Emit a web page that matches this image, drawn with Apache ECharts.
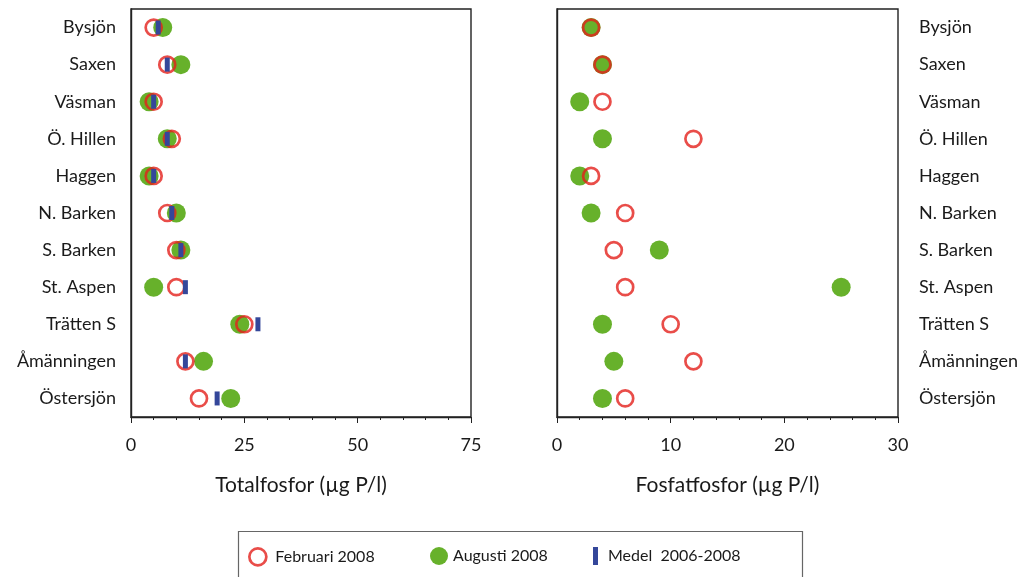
<!DOCTYPE html>
<html>
<head>
<meta charset="utf-8">
<script src="https://cdn.jsdelivr.net/npm/echarts@6/dist/echarts.min.js"></script>
<style>
html,body{margin:0;padding:0;background:#fff;}
#chart{width:1030px;height:577px;}
</style>
</head>
<body>
<div id="chart"></div>
<script>
const categories = ['Bysjön','Saxen','Väsman','Ö. Hillen','Haggen','N. Barken','S. Barken','St. Aspen','Trätten S','Åmänningen','Östersjön'];
// Totalfosfor (µg P/l)
const totFeb = [5, 8, 5, 9, 5, 8, 10, 10, 25, 12, 15];
const totAug = [7, 11, 4, 8, 4, 10, 11, 5, 24, 16, 22];
const totMedel = [6, 8, 5, 8, 5, 9, 11, 12, 28, 12, 19];
// Fosfatfosfor (µg P/l)
const fosFeb = [3, 4, 4, 12, 3, 6, 5, 6, 10, 12, 6];
const fosAug = [3, 4, 2, 4, 2, 3, 9, 25, 4, 5, 4];
const totTicks = {min: 0, max: 75, interval: 25};
const fosTicks = {min: 0, max: 30, interval: 10};

const FEB = 'Februari 2008', AUG = 'Augusti 2008', MED = 'Medel  2006-2008';
const RED = '#e3201b', GREEN = '#67b12b', BLUE = '#34479a';
const FONT = 'Lato';
const TXT = '#1a1a1a';

const pairs = arr => arr.map((v, i) => [v, categories[i]]);

function xAx(idx, t, name) {
  return {
    gridIndex: idx, type: 'value', min: t.min, max: t.max, interval: t.interval,
    name: name, nameLocation: 'middle', nameGap: 58,
    nameTextStyle: {fontFamily: FONT, fontSize: 21, color: TXT},
    axisLine: {show: true, lineStyle: {color: '#222', width: 1.4}},
    axisTick: {show: true, length: 6, lineStyle: {color: '#222'}},
    minorTick: {show: true, splitNumber: 5, length: 3, lineStyle: {color: '#222'}},
    splitLine: {show: false},
    axisLabel: {fontFamily: FONT, fontSize: 18, color: TXT, margin: 19}
  };
}
function yAx(idx, pos, margin) {
  return {
    gridIndex: idx, type: 'category', data: categories, inverse: true, position: pos,
    boundaryGap: true,
    axisLine: {show: true, lineStyle: {color: '#222', width: 1.4}},
    axisTick: {show: false},
    axisLabel: {fontFamily: FONT, fontSize: 18, color: TXT, margin: margin},
    splitLine: {show: false}
  };
}
const ringStyleT = {color: 'rgba(255,255,255,0)', borderColor: RED, borderWidth: 2.7};

const chart = echarts.init(document.getElementById('chart'), null, {renderer: 'canvas'});
chart.setOption({
  animation: false,
  backgroundColor: '#fff',
  grid: [
    {left: 131, top: 9, width: 340, height: 408, show: true, borderColor: '#222', borderWidth: 1.4},
    {left: 557, top: 9, width: 341, height: 408, show: true, borderColor: '#222', borderWidth: 1.4}
  ],
  xAxis: [xAx(0, totTicks, 'Totalfosfor (µg P/l)'), xAx(1, fosTicks, 'Fosfatfosfor (µg P/l)')],
  yAxis: [yAx(0, 'left', 15), yAx(1, 'right', 21)],
  legend: [
    {data: [{name: FEB, icon: 'circle', itemStyle: {color: '#fff', borderColor: RED, borderWidth: 2.7}}],
     left: 248, top: 547, padding: 0, itemWidth: 17, itemHeight: 17,
     textStyle: {fontFamily: FONT, fontSize: 16, color: TXT, padding: [0, 0, 0, 4]}, selectedMode: false},
    {data: [{name: AUG, icon: 'circle'}], left: 430, top: 547, padding: 0, itemWidth: 18, itemHeight: 18,
     textStyle: {fontFamily: FONT, fontSize: 16, color: TXT}, selectedMode: false},
    {data: [{name: MED, icon: 'rect'}], left: 593, top: 547, padding: 0, itemWidth: 5, itemHeight: 18,
     textStyle: {fontFamily: FONT, fontSize: 16, color: TXT, padding: [0, 0, 0, 5]}, selectedMode: false}
  ],
  graphic: [
    {type: 'rect', shape: {x: 238.5, y: 531.5, width: 564, height: 60}, style: {fill: 'none', stroke: '#666', lineWidth: 1.2}, silent: true}
  ],
  series: [
    {name: AUG, type: 'scatter', xAxisIndex: 0, yAxisIndex: 0, symbol: 'circle', symbolSize: 19,
     itemStyle: {color: GREEN, opacity: 1}, data: pairs(totAug), z: 2},
    {name: FEB, type: 'scatter', xAxisIndex: 0, yAxisIndex: 0, symbol: 'circle', symbolSize: 16,
     itemStyle: ringStyleT, data: pairs(totFeb), z: 3},
    {name: MED, type: 'scatter', xAxisIndex: 0, yAxisIndex: 0, symbol: 'rect', symbolSize: [5, 14],
     itemStyle: {color: BLUE, opacity: 1}, data: pairs(totMedel), z: 4},
    {name: AUG, type: 'scatter', xAxisIndex: 1, yAxisIndex: 1, symbol: 'circle', symbolSize: 19,
     itemStyle: {color: GREEN, opacity: 1}, data: pairs(fosAug), z: 2},
    {name: FEB, type: 'scatter', xAxisIndex: 1, yAxisIndex: 1, symbol: 'circle', symbolSize: 16,
     itemStyle: ringStyleT, data: pairs(fosFeb), z: 3}
  ]
});
</script>
</body>
</html>
